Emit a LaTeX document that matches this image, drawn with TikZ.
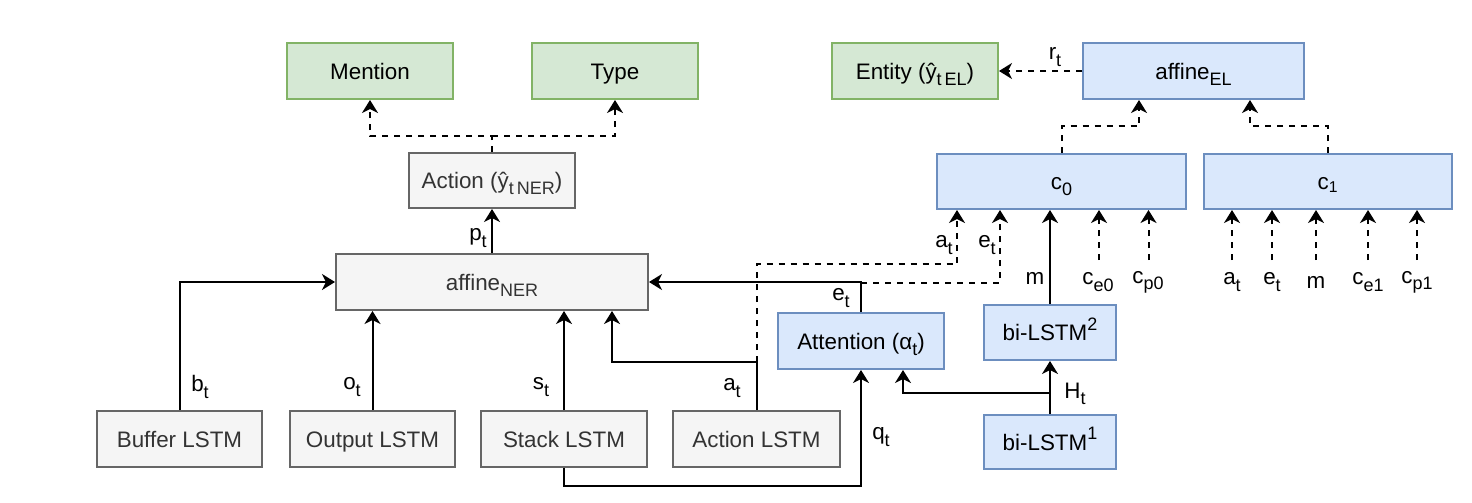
\documentclass[tikz,border=0pt]{standalone}
\usepackage{fontspec}
\setmainfont{Liberation Sans}
\usetikzlibrary{arrows.meta}

\definecolor{greenfill}{HTML}{D5E8D4}
\definecolor{greenline}{HTML}{82B366}
\definecolor{bluefill}{HTML}{DAE8FC}
\definecolor{blueline}{HTML}{6C8EBF}
\definecolor{greyfill}{HTML}{F5F5F5}
\definecolor{greyline}{HTML}{666666}
\definecolor{greytext}{HTML}{333333}

\newcommand{\dsub}[1]{\raisebox{-0.28em}{\fontsize{9}{10}\selectfont #1}}
\newcommand{\dsup}[1]{\raisebox{0.45em}{\fontsize{9}{10}\selectfont #1}}

\begin{document}
\begin{tikzpicture}[x=0.5pt, y=-0.5pt,
  font=\fontsize{11.2}{13}\selectfont,
  box/.style={draw, line width=1pt, inner sep=0pt, minimum height=28pt, text height=8pt, text depth=0pt},
  outbox/.style={box, fill=greenfill, draw=greenline},
  elbox/.style={box, fill=bluefill, draw=blueline},
  nerbox/.style={box, fill=greyfill, draw=greyline, text=greytext},
  lbl/.style={inner sep=0pt},
  arr/.style={line width=1pt, -{Stealth[length=6.5pt, width=8pt, inset=2pt]}},
  darr/.style={arr, dashed}]
\useasboundingbox (0,0) rectangle (1472,503);

\node[outbox, minimum width=83pt] (mention) at (370,71) {Mention};
\node[outbox, minimum width=83pt] (type) at (615,71) {Type};
\node[outbox, minimum width=83pt] (entity) at (915,71) {Entity (ŷ\dsub{t\,EL})};
\node[elbox, minimum width=110.5pt] (affel) at (1193.5,71) {affine\dsub{EL}};
\node[nerbox, minimum width=83pt, minimum height=27.5pt] (action) at (492,180.5) {Action (ŷ\dsub{t\,NER})};
\node[elbox, minimum width=124.5pt, minimum height=27.5pt] (c0) at (1061.5,181.5) {c\dsub{0}};
\node[elbox, minimum width=124pt, minimum height=27.5pt] (c1) at (1328,181.5) {c\textsubscript{1}};
\node[nerbox, minimum width=156pt] (affner) at (492,282) {affine\dsub{NER}};
\node[elbox, minimum width=83pt] (attn) at (861,341) {Attention (α\dsub{t})};
\node[elbox, minimum width=66pt, minimum height=27.5pt] (bil2) at (1050,332.5) {bi-LSTM\dsup{2}};
\node[elbox, minimum width=66pt, minimum height=27pt] (bil1) at (1050,442) {bi-LSTM\dsup{1}};
\node[nerbox, minimum width=82.5pt] (buffer) at (179.5,439) {Buffer LSTM};
\node[nerbox, minimum width=82.5pt] (output) at (372.5,439) {Output LSTM};
\node[nerbox, minimum width=83pt] (stack) at (564,439) {Stack LSTM};
\node[nerbox, minimum width=83.5pt] (actlstm) at (756.5,439) {Action LSTM};

\coordinate (split) at (492,136);
\coordinate (aup) at (612,362);
\coordinate (acorner) at (756.5,362);
\coordinate (atc0) at (957,264);
\coordinate (etcorner) at (861,283);
\coordinate (etc0) at (1000,283);
\coordinate (hsplit) at (1050,393);
\coordinate (ce0) at (1099,260);
\coordinate (cp0) at (1148.5,260);
\coordinate (elin0) at (1139,126);
\coordinate (elin1) at (1250,126);
\coordinate (c1at) at (1232,260);
\coordinate (c1et) at (1272,260);
\coordinate (c1m) at (1316,260);
\coordinate (c1ce) at (1368,260);
\coordinate (c1cp) at (1417,260);

\draw[darr] (action.north) -- (split) -| (mention.south);
\draw[darr] (split) -| (type.south);
\draw[arr] (affner.north) -- (action.south);
\draw[arr] (buffer.north) |- (affner.west);
\draw[arr] (output.north) -- (output |- affner.south);
\draw[arr] (stack.north) -- (stack |- affner.south);
\draw[arr] (actlstm.north) |- (aup) -- (aup |- affner.south);
\draw[arr] (attn.north) |- (affner.east);
\draw[arr] (stack.south) -- ++(0,18) -| (attn.south);
\draw[arr] (bil1.north) -- (bil2.south);
\draw[arr] (hsplit) -| ([xshift=21pt]attn.south);
\draw[arr] (bil2.north) -- (bil2.north |- c0.south);
\draw[darr] (acorner) |- (atc0) -- (atc0 |- c0.south);
\draw[darr] (etcorner) -- (etc0) -- (etc0 |- c0.south);
\draw[darr] (ce0) -- (ce0 |- c0.south);
\draw[darr] (cp0) -- (cp0 |- c0.south);
\draw[darr] (c1at) -- (c1at |- c1.south);
\draw[darr] (c1et) -- (c1et |- c1.south);
\draw[darr] (c1m) -- (c1m |- c1.south);
\draw[darr] (c1ce) -- (c1ce |- c1.south);
\draw[darr] (c1cp) -- (c1cp |- c1.south);
\draw[darr] (c0.north) |- (elin0) -- (elin0 |- affel.south);
\draw[darr] (c1.north) |- (elin1) -- (elin1 |- affel.south);
\draw[darr] (affel.west) -- (entity.east);

\node[lbl] (lpt) at (478,238) {p\dsub{t}};
\node[lbl] (lbt) at (200,387) {b\dsub{t}};
\node[lbl] (lot) at (352,387) {o\dsub{t}};
\node[lbl] (lst) at (541,387) {s\dsub{t}};
\node[lbl] (lat) at (732,388) {a\dsub{t}};
\node[lbl] (lqt) at (881,437) {q\dsub{t}};
\node[lbl] (let) at (841,298) {e\dsub{t}};
\node[lbl] (lht) at (1075,394) {H\dsub{t}};
\node[lbl] (lm) at (1035,278) {m};
\node[lbl] (lat0) at (944,245) {a\dsub{t}};
\node[lbl] (let0) at (987,245) {e\dsub{t}};
\node[lbl] (lce0) at (1098,282) {c\dsub{e0}};
\node[lbl] (lcp0) at (1148,282) {c\dsub{p0}};
\node[lbl] (lat1) at (1232,282) {a\dsub{t}};
\node[lbl] (let1) at (1272,282) {e\dsub{t}};
\node[lbl] (lm1) at (1316,282) {m};
\node[lbl] (lce1) at (1368,282) {c\dsub{e1}};
\node[lbl] (lcp1) at (1417,282) {c\dsub{p1}};
\node[lbl] (lrt) at (1055,57) {r\dsub{t}};
\end{tikzpicture}
\end{document}
